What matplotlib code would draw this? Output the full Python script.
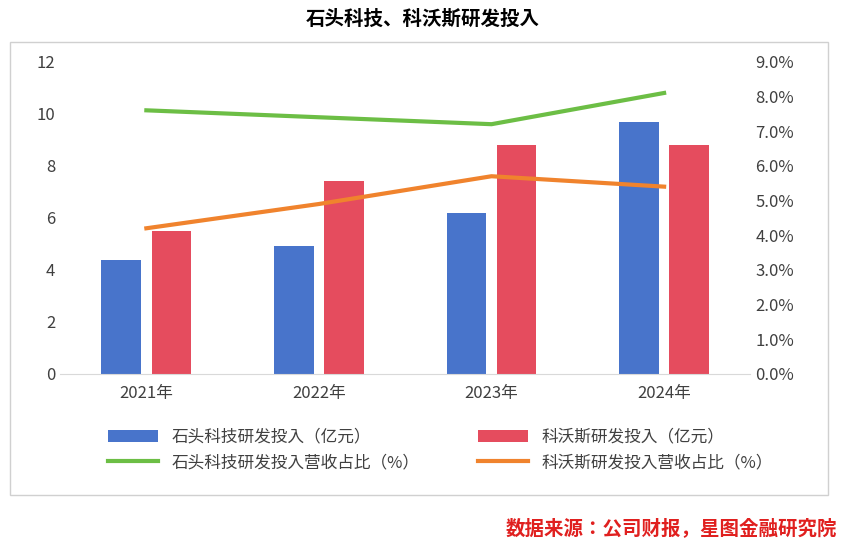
import matplotlib.pyplot as plt
from matplotlib import font_manager as fm
from matplotlib.patches import Rectangle
from matplotlib.ticker import PercentFormatter
import numpy as np

# find a CJK font file and register it
cjk_name = 'Noto Sans CJK SC'
for f in fm.findSystemFonts():
    if 'CJK' in f and ('Noto' in f):
        fm.fontManager.addfont(f)
        try:
            cjk_name = fm.FontProperties(fname=f).get_name()
        except Exception:
            pass
        if 'Regular' in f or 'Bold' not in f:
            break
plt.rcParams['font.family'] = [cjk_name, 'DejaVu Sans']

years = ['2021年', '2022年', '2023年', '2024年']
roborock_rd = [4.4, 4.9, 6.2, 9.7]
ecovacs_rd = [5.5, 7.4, 8.8, 8.8]
roborock_ratio = [7.6, 7.4, 7.2, 8.1]
ecovacs_ratio = [4.2, 4.9, 5.7, 5.4]

blue = '#4874CB'
red = '#E54C5E'
green = '#6CBE45'
orange = '#F0832D'

fig = plt.figure(figsize=(8.46, 5.44), dpi=100)
fig.patches.append(Rectangle((10 / 846, 1 - 495 / 544), 818 / 846, 453 / 544,
                             transform=fig.transFigure, fill=False,
                             edgecolor='#D0D0D0', linewidth=1))
ax = fig.add_axes([0.071, 0.3125, 0.816, 0.574])
x = np.arange(len(years))
w = 0.23
b1 = ax.bar(x - 0.145, roborock_rd, w, color=blue, label='石头科技研发投入（亿元）')
b2 = ax.bar(x + 0.145, ecovacs_rd, w, color=red, label='科沃斯研发投入（亿元）')
ax.set_ylim(0, 12)
ax.set_xlim(-0.5, 3.5)
ax.set_yticks(range(0, 13, 2))
ax.set_xticks(x)
ax.set_xticklabels(years)
for s in ['top', 'right', 'left']:
    ax.spines[s].set_visible(False)
ax.spines['bottom'].set_color('#D9D9D9')
ax.tick_params(length=0, labelsize=12, colors='#404040')
ax.tick_params(axis='x', pad=8)

ax2 = ax.twinx()
l1, = ax2.plot(x, roborock_ratio, color=green, linewidth=3, label='石头科技研发投入营收占比（%）')
l2, = ax2.plot(x, ecovacs_ratio, color=orange, linewidth=3, label='科沃斯研发投入营收占比（%）')
ax2.set_ylim(0, 9)
ax2.set_yticks(range(10))
ax2.yaxis.set_major_formatter(PercentFormatter(decimals=1))
for s in ax2.spines.values():
    s.set_visible(False)
ax2.tick_params(length=0, labelsize=12, colors='#404040')

handles = [b1, l1, b2, l2]
fig.legend(handles, [h.get_label() for h in handles],
           loc='center left', bbox_to_anchor=(0.11, 0.173), ncol=2, frameon=False,
           fontsize=12, columnspacing=3.5, handlelength=3, labelcolor='#404040')

fig.text(0.5, 0.965, '石头科技、科沃斯研发投入', ha='center', va='center',
         fontsize=14, fontweight='bold')
fig.text(0.99, 0.03, '数据来源：公司财报，星图金融研究院', ha='right', va='center',
         fontsize=14, fontweight='bold', style='italic', color='#E0201F')

fig.savefig('out.png', dpi=100)
